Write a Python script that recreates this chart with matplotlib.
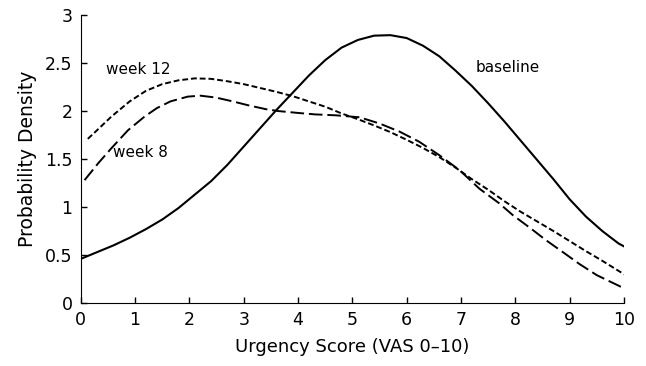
import matplotlib
matplotlib.use("Agg")
import matplotlib.pyplot as plt

base_x = [0, 0.3, 0.6, 0.9, 1.2, 1.5, 1.8, 2.1, 2.4, 2.7, 3.0, 3.3, 3.6, 3.9, 4.2, 4.5, 4.8, 5.1,
          5.4, 5.7, 6.0, 6.3, 6.6, 6.9, 7.2, 7.5, 7.8, 8.1, 8.4, 8.7, 9.0, 9.3, 9.6, 9.9, 10]
base_y = [0.46, 0.53, 0.60, 0.68, 0.77, 0.87, 0.99, 1.13, 1.27, 1.44, 1.63, 1.82, 2.01, 2.19, 2.37,
          2.53, 2.66, 2.74, 2.785, 2.79, 2.76, 2.68, 2.57, 2.42, 2.26, 2.08, 1.89, 1.69, 1.49, 1.29,
          1.08, 0.90, 0.75, 0.62, 0.59]

w12_x = [0.13, 0.3, 0.56, 0.9, 1.2, 1.5, 1.8, 2.1, 2.4, 2.7, 3.0, 3.3, 3.6, 3.9, 4.2, 4.5, 4.8,
         5.1, 5.4, 5.7, 6.0, 6.3, 6.6, 6.9, 7.2, 7.5, 7.8, 8.1, 8.4, 8.7, 9.0, 9.3, 9.6, 9.9, 10]
w12_y = [1.71, 1.80, 1.94, 2.10, 2.21, 2.28, 2.32, 2.34, 2.335, 2.31, 2.28, 2.24, 2.20, 2.155,
         2.10, 2.045, 1.975, 1.915, 1.85, 1.78, 1.70, 1.615, 1.52, 1.41, 1.29, 1.18, 1.06, 0.95,
         0.85, 0.75, 0.645, 0.54, 0.44, 0.335, 0.30]

w8_x = [0.07, 0.32, 0.56, 0.87, 1.17, 1.4, 1.65, 1.97, 2.2, 2.49, 2.8, 3.08, 3.4, 3.63, 4.0, 4.31,
        4.7, 5.13, 5.5, 5.87, 6.23, 6.6, 6.97, 7.34, 7.7, 7.95, 8.3, 8.56, 8.9, 9.17, 9.5, 9.94, 10]
w8_y = [1.28, 1.455, 1.61, 1.80, 1.94, 2.03, 2.10, 2.15, 2.16, 2.14, 2.10, 2.06, 2.02, 2.00, 1.98,
        1.965, 1.955, 1.935, 1.87, 1.785, 1.68, 1.54, 1.385, 1.19, 1.04, 0.917, 0.77, 0.656,
        0.52, 0.41, 0.29, 0.17, 0.16]

x_ticks = list(range(0, 11))
y_ticks = [0, 0.5, 1, 1.5, 2, 2.5, 3]
y_tick_labels = ["0", "0.5", "1", "1.5", "2", "2.5", "3"]

fig = plt.figure(figsize=(6.46, 3.66), dpi=100)
ax = fig.add_axes([0.125, 0.172, 0.841, 0.787])

ax.plot(base_x, base_y, color="black", lw=1.5, solid_joinstyle="round")
ax.plot(w12_x, w12_y, color="black", lw=1.4, dashes=(3, 1.5))
ax.plot(w8_x, w8_y, color="black", lw=1.4, dashes=(7, 2.5))

ax.text(0.46, 2.43, "week 12", fontsize=11, va="center", ha="left")
ax.text(0.6, 1.57, "week 8", fontsize=11, va="center", ha="left")
ax.text(7.26, 2.45, "baseline", fontsize=11, va="center", ha="left")

ax.set_xlim(0, 10)
ax.set_ylim(0, 3)
ax.set_xticks(x_ticks)
ax.set_yticks(y_ticks)
ax.set_yticklabels(y_tick_labels)
ax.tick_params(direction="in", length=4, labelsize=12.5, pad=6, width=1)
ax.spines["top"].set_visible(False)
ax.spines["right"].set_visible(False)
ax.set_xlabel("Urgency Score (VAS 0–10)", fontsize=13, labelpad=6)
ax.set_ylabel("Probability Density", fontsize=13.5, labelpad=6)

fig.savefig("out.png", dpi=100)
